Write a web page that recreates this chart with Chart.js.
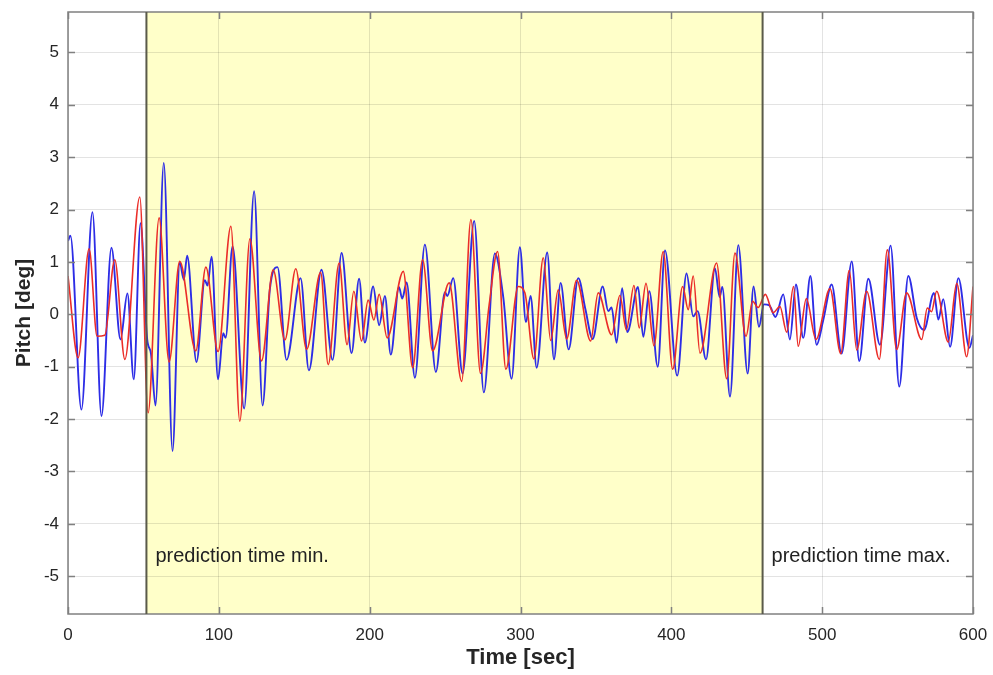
<!DOCTYPE html>
<html>
<head>
<meta charset="utf-8">
<script src="https://cdn.jsdelivr.net/npm/chart.js@4"></script>
<style>
  html, body { margin: 0; padding: 0; background: #fff; }
  #wrap { width: 993px; height: 675px; }
</style>
</head>
<body>
<div id="wrap"><canvas id="pitchChart" width="993" height="675"></canvas></div>
<script>
// prediction window (sec)
const predMin = 52;
const predMax = 460.5;

const xTicks = [0, 100, 200, 300, 400, 500, 600];
const yTicks = [-5, -4, -3, -2, -1, 0, 1, 2, 3, 4, 5];

// red trace: peaks / troughs
const redTime = [0, 6.7, 14, 19.3, 24.4, 31, 37.7, 47.6, 53.1, 60.4, 67, 74.1, 84.7, 91.4, 99.5,
  108, 113.9, 120.6, 128.3, 136, 143.8, 151, 158.2, 167.5, 172.5, 179.8, 185, 189.5, 194.6, 199,
  202.8, 206.3, 211.6, 222.3, 228.5, 235.1, 241.7, 252.7, 261, 267.1, 273.5, 279.3, 284.8, 290.3,
  298.5, 302.9, 308.9, 315.1, 320, 325, 330.6, 337.2, 346.5, 351.5, 360.4, 365.9, 370.2, 375.2,
  378.7, 383.2, 388.5, 394.6, 400.9, 407.5, 411.2, 414.5, 419, 430, 436.7, 442.2, 449.5, 453.9,
  457.5, 462.3, 467.5, 472, 476.5, 481, 484.1, 489.5, 495.9, 505.2, 512.3, 518, 522.9, 529.5,
  537.9, 543.2, 549.4, 556, 566, 569.7, 572.5, 575.9, 583.6, 589.2, 595.8, 600];
const redPitch = [0.73, -0.83, 1.25, -0.42, -0.40, 1.04, -0.86, 2.24, -1.88, 1.84, -0.91, 1.01, -0.70, 0.90, -0.71,
  1.68, -2.04, 1.44, -0.89, 0.85, -0.49, 0.87, -0.67, 0.80, -0.96, 0.98, -0.58, 0.44, -0.51, 0.27,
  -0.11, 0.38, -0.45, 0.82, -1.02, 1.04, -0.70, 0.60, -1.28, 1.81, -1.13, 0.20, 1.20, -1.05,
  0.53, 0.41, -0.85, 1.08, -0.50, 0.47, -0.47, 0.65, -0.51, 0.41, -0.39, 0.36, -0.30, 0.55,
  -0.26, 0.59, -0.60, 1.20, -1.05, 0.53, 0.09, 0.73, -0.74, 0.98, -1.23, 1.17, -0.42, 0.25,
  0.13, 0.38, 0.03, 0.15, -0.34, 0.53, -0.61, 0.30, -0.48, 0.49, -0.75, 0.84, -0.68, 0.44,
  -0.86, 1.23, -0.67, 0.41, -0.48, 0.12, 0.05, 0.44, -0.53, 0.59, -0.81, 0.53];

// blue trace
const blueTime = [0, 1.6, 8.9, 16.2, 22.2, 28.8, 34.8, 39.4, 43.6, 48.1, 52.5, 55, 58, 63.5, 69.3,
  74.1, 76.8, 79, 85.2, 90.7, 92.5, 95.2, 99.5, 102.9, 104.5, 109.1, 116.8, 123.4, 129, 133.8,
  138.9, 144.9, 154.2, 159.7, 168.1, 175.4, 181.4, 188, 193, 196.8, 202.3, 206.3, 210.1, 214,
  219.4, 221.6, 224.5, 230, 236.6, 243.9, 249.9, 251.5, 255.4, 261.6, 269.3, 275.7, 283, 288.6,
  294.1, 299.6, 303.6, 306.7, 310.7, 317.7, 322.2, 326.6, 331.9, 338.3, 343, 347.8, 354.5, 358.2,
  360.4, 363.7, 367.4, 370.8, 377.9, 381.4, 385.4, 391, 395.8, 403.9, 410.1, 414.5, 417.4, 423,
  428.9, 432, 433.8, 438.9, 444.4, 450.6, 454.5, 458.1, 461.4, 465, 469, 474.2, 478.6, 482.6,
  487.5, 492.2, 496.3, 500.8, 506.3, 512.9, 519.6, 524.6, 530.6, 538.3, 545.4, 551.1, 557.1,
  562.7, 567.5, 574.1, 577, 580.3, 584.8, 590.3, 597.6, 600];
const bluePitch = [1.40, 1.50, -1.82, 1.95, -1.94, 1.27, -0.48, 0.40, -1.24, 1.74, -0.48, -0.75, -1.74, 2.89, -2.61,
  0.99, 0.66, 1.12, -0.91, 0.65, 0.55, 1.10, -1.24, -0.36, -0.45, 1.30, -1.80, 2.35, -1.74, 0.47,
  0.90, -0.87, 0.69, -1.07, 0.85, -0.87, 1.17, -0.74, 0.68, -0.54, 0.53, -0.21, 0.35, -0.77,
  0.52, 0.30, 0.61, -1.21, 1.33, -1.10, 0.42, 0.35, 0.69, -1.13, 1.78, -1.49, 1.16, 0.32,
  -1.23, 1.28, -0.15, 0.35, -1.02, 1.18, -0.86, 0.60, -0.67, 0.69, 0.10, -0.47, 0.53, 0.06,
  0.13, -0.54, 0.50, -0.34, 0.52, -0.43, 0.44, -1.00, 1.22, -1.17, 0.78, -0.04, 0.06, -0.86,
  0.88, 0.33, 0.52, -1.57, 1.32, -1.13, 0.53, -0.24, 0.19, 0.17, -0.05, 0.38, -0.48, 0.57,
  -0.45, 0.73, -0.58, -0.10, 0.57, -0.75, 1.01, -0.89, 0.68, -0.58, 1.31, -1.38, 0.73,
  -0.07, -0.30, 0.41, -0.10, 0.29, -0.62, 0.69, -0.64, -0.40];

const FONT = '"Liberation Sans", Arial, sans-serif';

function toPoints(xs, ys) {
    return xs.map((x, i) => ({ x: x, y: ys[i] }));
}

// yellow band, its edges, the axes box and inward ticks (MATLAB look)
const framePlugin = {
    id: 'frame',
    beforeDraw(chart) {
        const { ctx, chartArea: a, scales: { x } } = chart;
        const x0 = x.getPixelForValue(predMin);
        const x1 = x.getPixelForValue(predMax);
        ctx.save();
        ctx.fillStyle = '#ffffc9';
        ctx.fillRect(x0, a.top, x1 - x0, a.bottom - a.top);
        ctx.restore();
    },
    afterDatasetsDraw(chart) {
        const { ctx, chartArea: a, scales: { x, y } } = chart;
        ctx.save();
        ctx.strokeStyle = '#808080';
        ctx.lineWidth = 1.5;
        ctx.strokeRect(a.left, a.top, a.right - a.left, a.bottom - a.top);
        ctx.beginPath();
        yTicks.forEach(v => {
            const py = Math.round(y.getPixelForValue(v)) + 0.5;
            ctx.moveTo(a.left, py); ctx.lineTo(a.left + 7, py);
            ctx.moveTo(a.right, py); ctx.lineTo(a.right - 7, py);
        });
        xTicks.forEach(v => {
            const px = Math.round(x.getPixelForValue(v)) + 0.5;
            ctx.moveTo(px, a.bottom); ctx.lineTo(px, a.bottom - 7);
            ctx.moveTo(px, a.top); ctx.lineTo(px, a.top + 7);
        });
        ctx.stroke();
        ctx.strokeStyle = '#5a5a4a';
        ctx.lineWidth = 2;
        ctx.beginPath();
        [predMin, predMax].forEach(v => {
            const px = x.getPixelForValue(v);
            ctx.moveTo(px, a.top); ctx.lineTo(px, a.bottom);
        });
        ctx.stroke();
        ctx.fillStyle = '#222';
        ctx.font = '20px ' + FONT;
        ctx.textBaseline = 'middle';
        const ty = y.getPixelForValue(-4.62);
        ctx.fillText('prediction time min.', x.getPixelForValue(predMin) + 9, ty);
        ctx.fillText('prediction time max.', x.getPixelForValue(predMax) + 9, ty);
        ctx.restore();
    }
};

const ctx = document.getElementById('pitchChart').getContext('2d');
new Chart(ctx, {
    type: 'line',
    data: {
        datasets: [
            {
                label: 'red',
                data: toPoints(redTime, redPitch),
                borderColor: 'rgb(235, 45, 40)',
                borderWidth: 1.6,
                pointRadius: 0,
                fill: false,
                cubicInterpolationMode: 'monotone'
            },
            {
                label: 'blue',
                data: toPoints(blueTime, bluePitch),
                borderColor: 'rgb(45, 45, 230)',
                borderWidth: 1.9,
                pointRadius: 0,
                fill: false,
                cubicInterpolationMode: 'monotone'
            }
        ]
    },
    options: {
        responsive: false,
        animation: false,
        layout: { padding: { top: 12, right: 20, left: 12, bottom: 4 } },
        plugins: {
            legend: { display: false },
            tooltip: { enabled: false }
        },
        scales: {
            x: {
                type: 'linear',
                min: 0,
                max: 600,
                afterFit: s => { s.height = 57; s.paddingLeft = 0; s.paddingRight = 0; },
                afterBuildTicks: s => { s.ticks = xTicks.map(v => ({ value: v })); },
                grid: { color: 'rgba(0,0,0,0.11)', drawTicks: false },
                border: { display: false },
                ticks: {
                    padding: 11,
                    color: '#262626',
                    font: { size: 17, family: FONT },
                    maxRotation: 0
                },
                title: {
                    display: true,
                    text: 'Time [sec]',
                    color: '#262626',
                    padding: { top: 0, bottom: 0 },
                    font: { size: 22, weight: 'bold', family: FONT }
                }
            },
            y: {
                min: -5.72,
                max: 5.77,
                afterFit: s => { s.width = 56; s.paddingTop = 0; s.paddingBottom = 0; },
                afterBuildTicks: s => { s.ticks = yTicks.map(v => ({ value: v })); },
                grid: { color: 'rgba(0,0,0,0.11)', drawTicks: false },
                border: { display: false },
                ticks: {
                    padding: 9,
                    color: '#262626',
                    font: { size: 17, family: FONT }
                },
                title: {
                    display: true,
                    text: 'Pitch [deg]',
                    color: '#262626',
                    padding: { top: 0, bottom: 0 },
                    font: { size: 21, weight: 'bold', family: FONT }
                }
            }
        }
    },
    plugins: [framePlugin]
});
</script>
</body>
</html>
